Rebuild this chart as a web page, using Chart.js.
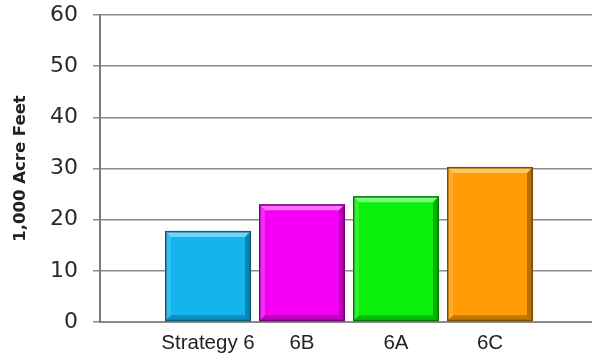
<!DOCTYPE html>
<html>
<head>
<meta charset="utf-8">
<script src="https://cdn.jsdelivr.net/npm/chart.js@4/dist/chart.umd.min.js"></script>
<style>
  html, body { margin: 0; padding: 0; background: #ffffff; }
  #wrap { width: 592px; height: 355px; position: relative; }
</style>
</head>
<body>
<div id="wrap"><canvas id="c" width="592" height="355"></canvas></div>
<script>
// ---- data ----
const categories = ['Strategy 6', '6B', '6A', '6C'];
const values = [17.8, 23.0, 24.6, 30.3];
const faceColors = ['#14b4ee', '#f500f5', '#0af00a', '#ff9c08'];
const edgeColors = ['#0b5d7c', '#7a007a', '#067a06', '#7a4a00'];
const lightColors = ['#7fdcf8', '#ff88ff', '#90ff90', '#ffcf70'];
const yTicks = [0, 10, 20, 30, 40, 50, 60];
const yTitle = '1,000 Acre Feet';

const points = values.map((v, i) => ({ x: i, y: v }));

// bevel plugin: uses the library's own bar elements for geometry
const bevel = {
  id: 'bevel',
  afterDatasetsDraw(chart) {
    const ctx = chart.ctx;
    const meta = chart.getDatasetMeta(0);
    meta.data.forEach((el, i) => {
      const p = el.getProps(['x', 'y', 'base', 'width'], true);
      const l = p.x - p.width / 2, r = p.x + p.width / 2;
      const t = p.y, b = p.base;
      const d = 6;
      ctx.save();
      ctx.fillStyle = lightColors[i];
      ctx.globalAlpha = 0.85;
      ctx.beginPath();
      ctx.moveTo(l, t); ctx.lineTo(r, t); ctx.lineTo(r - d, t + d); ctx.lineTo(l + d, t + d); ctx.closePath();
      ctx.fill();
      ctx.globalAlpha = 0.3;
      ctx.beginPath();
      ctx.moveTo(l, t); ctx.lineTo(l + d, t + d); ctx.lineTo(l + d, b - d); ctx.lineTo(l, b); ctx.closePath();
      ctx.fill();
      ctx.fillStyle = edgeColors[i];
      ctx.globalAlpha = 0.55;
      ctx.beginPath();
      ctx.moveTo(r, t); ctx.lineTo(r, b); ctx.lineTo(r - d, b - d); ctx.lineTo(r - d, t + d); ctx.closePath();
      ctx.fill();
      ctx.globalAlpha = 0.45;
      ctx.beginPath();
      ctx.moveTo(l, b); ctx.lineTo(r, b); ctx.lineTo(r - d, b - d); ctx.lineTo(l + d, b - d); ctx.closePath();
      ctx.fill();
      ctx.globalAlpha = 1;
      ctx.strokeStyle = edgeColors[i];
      ctx.lineWidth = 1.5;
      ctx.strokeRect(l + 0.75, t + 0.75, p.width - 1.5, b - t - 1.5);
      ctx.restore();
    });
  }
};

new Chart(document.getElementById('c'), {
  type: 'bar',
  data: {
    datasets: [{
      data: points,
      backgroundColor: faceColors,
      borderWidth: 0,
      barPercentage: 0.915,
      categoryPercentage: 1.0
    }]
  },
  options: {
    responsive: false,
    animation: false,
    devicePixelRatio: 1,
    layout: { padding: { top: 15, right: 0, bottom: 0, left: 0 } },
    plugins: { legend: { display: false }, tooltip: { enabled: false } },
    scales: {
      x: {
        type: 'linear',
        offset: false,
        min: -1.149,
        max: 4.085,
        grid: { display: false },
        border: { display: true, color: '#8a8a8a', width: 2 },
        afterFit(scale) { scale.height = 33; scale.paddingLeft = 0; scale.paddingRight = 0; },
        ticks: {
          stepSize: 1,
          includeBounds: false,
          autoSkip: false,
          maxRotation: 0,
          padding: 1,
          color: '#222222',
          font: { family: 'Liberation Sans, Arial, sans-serif', size: 20.5 },
          callback: (v) => (categories[v] !== undefined ? categories[v] : '')
        }
      },
      y: {
        min: yTicks[0],
        max: yTicks[yTicks.length - 1],
        afterFit(scale) { scale.width = 100; scale.paddingTop = 0; scale.paddingBottom = 0; },
        afterBuildTicks(scale) { scale.ticks = yTicks.map(v => ({ value: v })); },
        grid: { color: '#8c8c8c', lineWidth: 1.5, tickLength: 7, drawTicks: true },
        border: { display: true, color: '#7a7a7a', width: 2 },
        ticks: {
          padding: 15,
          color: '#2a2a2a',
          font: { family: 'DejaVu Sans, sans-serif', size: 22 }
        },
        title: {
          display: true,
          text: yTitle,
          color: '#222222',
          padding: { top: 11, bottom: 0 },
          font: { family: 'DejaVu Sans, sans-serif', size: 16.5, weight: 'bold' }
        }
      }
    }
  },
  plugins: [bevel]
});
</script>
</body>
</html>
